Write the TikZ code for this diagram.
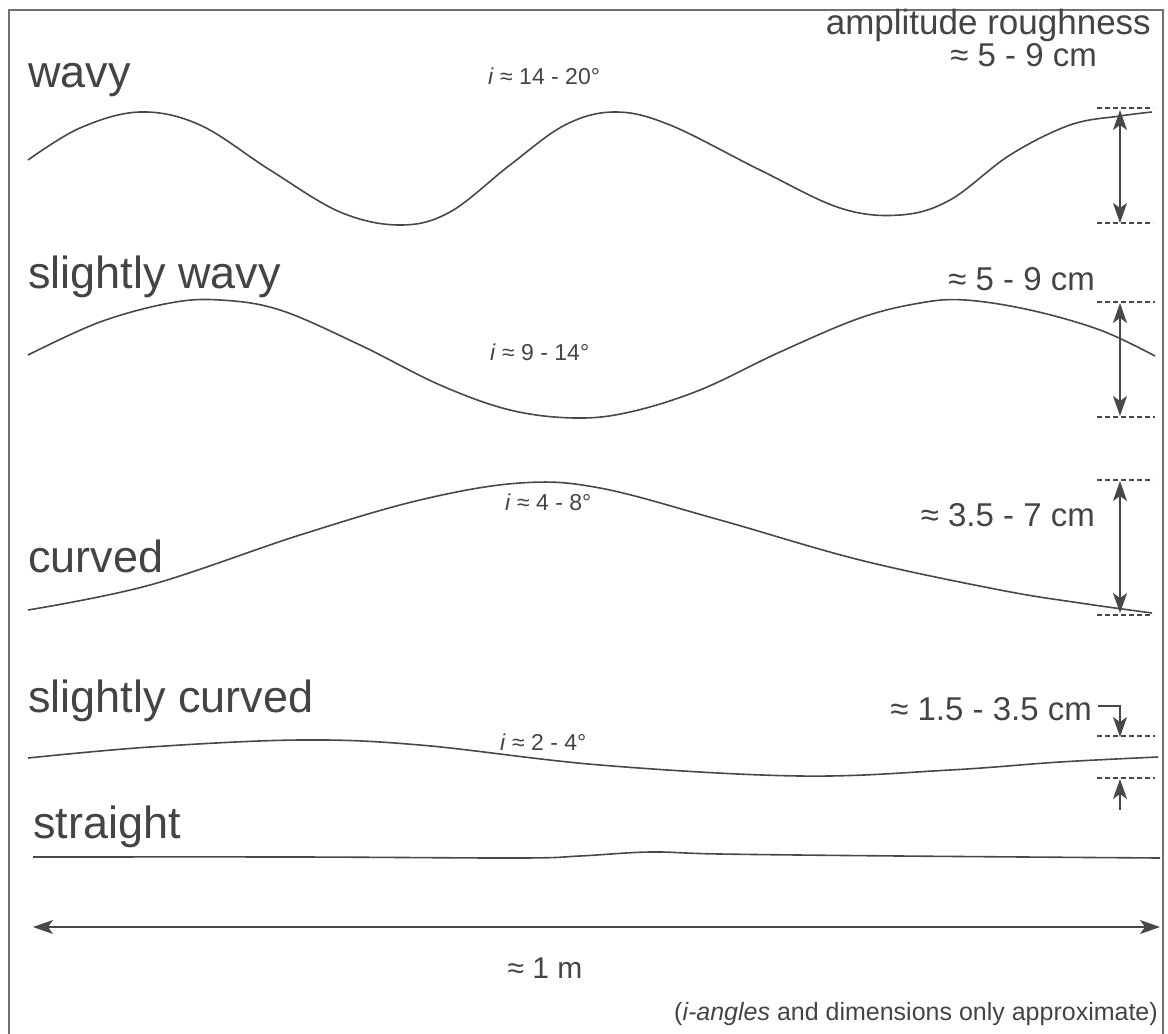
\documentclass[tikz,border=0pt]{standalone}
\usepackage{fontspec}
\setmainfont{Liberation Sans}
\usetikzlibrary{arrows.meta}
\definecolor{ink}{HTML}{444444}
\definecolor{linec}{HTML}{484848}
\definecolor{framec}{HTML}{707070}
\begin{document}
\begin{tikzpicture}[x=1pt,y=-1pt,
  lbl/.style={text=ink, inner sep=0pt, font=\fontsize{45}{50}\selectfont},
  dim/.style={text=ink, inner sep=0pt, font=\fontsize{33}{38}\selectfont},
  ang/.style={text=ink, inner sep=0pt, font=\fontsize{23}{26}\selectfont},
  note/.style={text=ink, inner sep=0pt, font=\fontsize{25}{30}\selectfont},
  prof/.style={draw=linec, line width=1.6pt},
  dashline/.style={draw=linec, line width=1.1pt, dash pattern=on 5pt off 3pt},
  tip/.tip={Stealth[length=20pt,width=14pt,inset=5pt]},
  dimarrow/.style={draw=linec, line width=1.5pt, tip-tip},
  onearrow/.style={draw=linec, line width=1.5pt, -tip},
]
\useasboundingbox (0,0) rectangle (1168,1034);
% frame
\draw[framec, line width=1.3pt] (9,1040) -- (9,10) -- (1163,10) -- (1163,1040);

% ---- wavy
\node[lbl, anchor=base west] (lwavy) at (28,87) {wavy};
\node[dim, anchor=base east, font=\fontsize{35}{40}\selectfont] (hdr) at (1151,34) {amplitude roughness};
\node[dim, anchor=base east] (dwavy) at (1097,66) {≈ 5 - 9 cm};
\node[ang, anchor=base west] (awavy) at (488,84) {\textit{i} ≈ 14 - 20°};
\draw[prof] plot[smooth, tension=0.6] coordinates {(28,160) (80,128) (140,112) (200,125) (270,170) (340,212) (400,225) (450,212) (510,165) (565,125) (615,112) (670,125) (760,170) (840,208) (900,215) (950,200) (1010,155) (1070,125) (1120,116) (1152,112)};
\coordinate (w1) at (1120,110);
\coordinate (w2) at (1120,223);
\draw[dashline] (1097,108) -- (1153,108);
\draw[dashline] (1097,223) -- (1153,223);
\draw[dimarrow] (w1) -- (w2);

% ---- slightly wavy
\node[lbl, anchor=base west] (lswavy) at (28,288) {slightly wavy};
\node[dim, anchor=base east] (dswavy) at (1095,290) {≈ 5 - 9 cm};
\node[ang, anchor=base west] (aswavy) at (490,360) {\textit{i} ≈ 9 - 14°};
\draw[prof] plot[smooth, tension=0.6] coordinates {(28,355) (100,322) (170,303) (220,300) (280,310) (360,345) (440,385) (510,410) (575,418) (630,412) (700,390) (780,352) (860,318) (920,303) (965,300) (1030,310) (1100,330) (1155,356)};
\coordinate (s1) at (1120,303);
\coordinate (s2) at (1120,416);
\draw[dashline] (1097,302) -- (1155,302);
\draw[dashline] (1097,417) -- (1155,417);
\draw[dimarrow] (s1) -- (s2);

% ---- curved
\node[lbl, anchor=base west] (lcurved) at (28,572) {curved};
\node[dim, anchor=base east] (dcurved) at (1095,526) {≈ 3.5 - 7 cm};
\node[ang, anchor=base west] (acurved) at (505,510) {\textit{i} ≈ 4 - 8°};
\draw[prof] plot[smooth, tension=0.6] coordinates {(28,610) (150,585) (300,535) (420,500) (520,483) (600,488) (720,520) (860,560) (1000,590) (1080,603) (1152,613)};
\coordinate (c1) at (1120,481);
\coordinate (c2) at (1120,613);
\draw[dashline] (1097,480) -- (1153,480);
\draw[dashline] (1097,615) -- (1153,615);
\draw[dimarrow] (c1) -- (c2);

% ---- slightly curved
\node[lbl, anchor=base west] (lscurved) at (28,712) {slightly curved};
\node[dim, anchor=base east] (dscurved) at (1092,720) {≈ 1.5 - 3.5 cm};
\node[ang, anchor=base west] (ascurved) at (500,750) {\textit{i} ≈ 2 - 4°};
\draw[prof] plot[smooth, tension=0.6] coordinates {(28,758) (150,747) (300,740) (420,745) (600,765) (800,776) (950,770) (1060,762) (1158,757)};
\coordinate (h0) at (1098,706);
\coordinate (h1) at (1120,706);
\coordinate (h2) at (1120,737);
\coordinate (h3) at (1120,810);
\coordinate (h4) at (1120,779);
\draw[dashline] (1097,736) -- (1155,736);
\draw[dashline] (1097,778) -- (1155,778);
\draw[onearrow] (h0) -- (h1) -- (h2);
\draw[onearrow] (h3) -- (h4);

% ---- straight
\node[lbl, anchor=base west] (lstraight) at (33,838) {straight};
\draw[prof] plot[smooth, tension=0.6] coordinates {(33,857) (300,857) (520,858) (580,856) (650,852) (720,854) (900,856) (1160,858)};

% ---- 1 m
\coordinate (m1) at (33,927);
\coordinate (m2) at (1160,927);
\draw[dimarrow] (m1) -- (m2);
\node[dim, anchor=base, font=\fontsize{30}{36}\selectfont] (onem) at (545,978) {≈ 1 m};
\node[note, anchor=base east] (notes) at (1158,1020) {(\textit{i-angles} and dimensions only approximate)};
\end{tikzpicture}
\end{document}
